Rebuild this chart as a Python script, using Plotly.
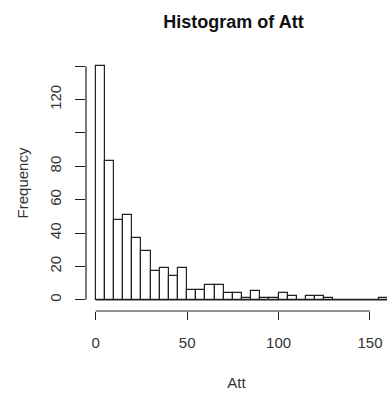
import plotly.graph_objects as go

# Histogram of Att: 5-unit bins starting at 0
bin_width = 5
bin_starts = list(range(0, 160, bin_width))
counts = [140, 83, 48, 51, 37, 29, 17, 19, 14, 19,
          6, 6, 9, 9, 4, 4, 1, 5, 1, 1,
          4, 2, 0, 2, 2, 1, 0, 0, 0, 0, 0, 1]

x_ticks = [0, 50, 100, 150]
y_ticks = [0, 20, 40, 60, 80, 100, 120, 140]
y_tick_text = ["0", "20", "40", "60", "80", "", "120", ""]

FONT = "Liberation Sans, Arial, sans-serif"
INK = "#222222"

centers = [s + bin_width / 2 for s in bin_starts]
last_edge = bin_starts[-1] + bin_width

fig = go.Figure()
fig.add_trace(go.Bar(
    x=centers, y=counts, width=bin_width,
    marker=dict(color="white", line=dict(color=INK, width=1.2)),
    hoverinfo="x+y", showlegend=False,
))
# baseline under empty bins
fig.add_trace(go.Scatter(
    x=[bin_starts[0], last_edge], y=[0, 0], mode="lines",
    line=dict(color=INK, width=1.2), hoverinfo="skip", showlegend=False,
))

# R-style axis lines spanning only the tick range
fig.add_shape(type="line", xref="x", yref="paper",
              x0=x_ticks[0], x1=x_ticks[-1], y0=0, y1=0,
              line=dict(color=INK, width=1.2))
fig.add_shape(type="line", xref="paper", yref="y",
              x0=0, x1=0, y0=y_ticks[0], y1=y_ticks[-1],
              line=dict(color=INK, width=1.2))

fig.update_layout(
    width=387, height=394,
    margin=dict(l=86, r=0, t=55, b=83),
    paper_bgcolor="white", plot_bgcolor="white",
    font=dict(family=FONT, color="#333333", size=15),
    bargap=0,
    title=dict(text="<b>Histogram of Att</b>", x=0.49, xref="paper",
               y=1 - 22 / 394, yref="container", yanchor="middle",
               xanchor="center",
               font=dict(family=FONT, size=18, color="#111111")),
    xaxis=dict(range=[-5.3, 159.3], tickvals=x_ticks,
               ticks="outside", ticklen=8, tickwidth=1.2, tickcolor=INK,
               showline=False, showgrid=False, zeroline=False,
               ticklabelstandoff=10,
               title=dict(text="Att", standoff=27,
                          font=dict(family=FONT, size=15, color="#333333"))),
    yaxis=dict(range=[-6.7, 146.7], tickvals=y_ticks, ticktext=y_tick_text,
               tickangle=-90,
               ticks="outside", ticklen=10, tickwidth=1.2, tickcolor=INK,
               showline=False, showgrid=False, zeroline=False,
               ticklabelstandoff=8,
               title=dict(text="Frequency", standoff=14,
                          font=dict(family=FONT, size=15, color="#333333"))),
)

fig.write_html("out.html")
